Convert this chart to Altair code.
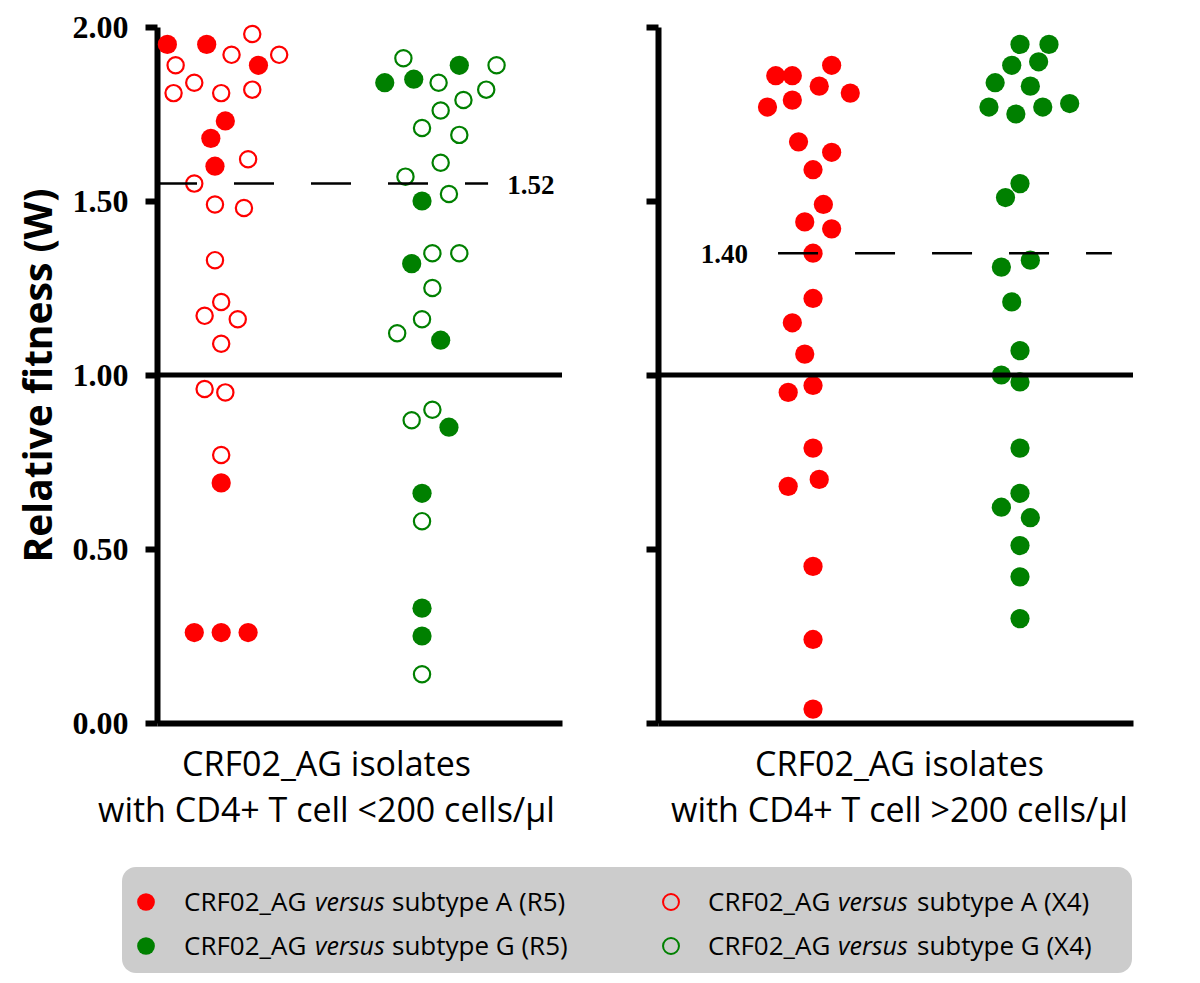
import altair as alt
import pandas as pd

# ---------------- data ----------------
# y = relative fitness (W); x = horizontal scatter position (1 = subtype A column, 2 = subtype G column)
# Panel 1: CRF02_AG isolates with CD4+ T cell <200 cells/ul
LT_A_R5_Y = [1.95, 1.95, 1.89, 1.73, 1.68, 1.60, 0.69, 0.26, 0.26, 0.26]
LT_A_R5_X = [0.77, 0.96, 1.21, 1.05, 0.98, 1.00, 1.03, 0.90, 1.03, 1.16]
LT_A_X4_Y = [1.98, 1.92, 1.92, 1.89, 1.84, 1.81, 1.81, 1.82, 1.62, 1.55,
             1.49, 1.48, 1.33, 1.21, 1.17, 1.16, 1.09, 0.96, 0.95, 0.77]
LT_A_X4_X = [1.18, 1.31, 1.08, 0.81, 0.90, 0.80, 1.03, 1.18, 1.16, 0.90,
             1.00, 1.14, 1.00, 1.03, 0.95, 1.11, 1.03, 0.95, 1.05, 1.03]
LT_G_R5_Y = [1.84, 1.85, 1.89, 1.50, 1.32, 1.10, 0.85, 0.66, 0.33, 0.25]
LT_G_R5_X = [1.82, 1.96, 2.18, 2.00, 1.95, 2.09, 2.13, 2.00, 2.00, 2.00]
LT_G_X4_Y = [1.91, 1.89, 1.84, 1.82, 1.79, 1.76, 1.71, 1.69, 1.61, 1.57,
             1.52, 1.35, 1.35, 1.25, 1.16, 1.12, 0.87, 0.90, 0.58, 0.14]
LT_G_X4_X = [1.91, 2.36, 2.08, 2.31, 2.20, 2.09, 2.00, 2.18, 2.09, 1.92,
             2.13, 2.05, 2.18, 2.05, 2.00, 1.88, 1.95, 2.05, 2.00, 2.00]

# Panel 2: CRF02_AG isolates with CD4+ T cell >200 cells/ul
GT_A_R5_Y = [1.89, 1.86, 1.86, 1.83, 1.81, 1.77, 1.79, 1.67, 1.64, 1.59,
             1.49, 1.44, 1.42, 1.35, 1.22, 1.15, 1.06, 0.97, 0.95, 0.79,
             0.70, 0.68, 0.45, 0.24, 0.04]
GT_A_R5_X = [1.09, 0.82, 0.90, 1.03, 1.18, 0.78, 0.90, 0.93, 1.09, 1.00,
             1.05, 0.96, 1.09, 1.00, 1.00, 0.90, 0.96, 1.00, 0.88, 1.00,
             1.03, 0.88, 1.00, 1.00, 1.00]
GT_G_R5_Y = [1.95, 1.95, 1.89, 1.90, 1.84, 1.83, 1.77, 1.75, 1.77, 1.78,
             1.55, 1.51, 1.31, 1.33, 1.21, 1.07, 1.00, 0.98, 0.79, 0.66,
             0.62, 0.59, 0.51, 0.42, 0.30]
GT_G_R5_X = [2.00, 2.14, 1.96, 2.09, 1.88, 2.05, 1.85, 1.98, 2.11, 2.24,
             2.00, 1.93, 1.91, 2.05, 1.96, 2.00, 1.91, 2.00, 2.00, 2.00,
             1.91, 2.05, 2.00, 2.00, 2.00]

Y_TICKS = [0.0, 0.5, 1.0, 1.5, 2.0]
REFERENCE_W = 1.0
MEDIAN_LINE = {"lt": 1.55, "gt": 1.35}
MEDIAN_TEXT = {"lt": "1.52", "gt": "1.40"}
PANEL_TITLES = {
    "lt": ["CRF02_AG isolates", "with CD4+ T cell <200 cells/μl"],
    "gt": ["CRF02_AG isolates", "with CD4+ T cell >200 cells/μl"],
}
SUBTYPES = ["A", "G"]
COLORS = ["#ff0000", "#008000"]
LEGEND_ITEMS = [  # (subtype, tropism, text after "versus")
    ("A", "R5", "subtype A (R5)"),
    ("G", "R5", "subtype G (R5)"),
    ("A", "X4", "subtype A (X4)"),
    ("G", "X4", "subtype G (X4)"),
]

# ---------------- build tables ----------------
rows = []
for panel, sub, trop, xs, ys in [
    ("lt", "A", "R5", LT_A_R5_X, LT_A_R5_Y),
    ("lt", "A", "X4", LT_A_X4_X, LT_A_X4_Y),
    ("lt", "G", "R5", LT_G_R5_X, LT_G_R5_Y),
    ("lt", "G", "X4", LT_G_X4_X, LT_G_X4_Y),
    ("gt", "A", "R5", GT_A_R5_X, GT_A_R5_Y),
    ("gt", "G", "R5", GT_G_R5_X, GT_G_R5_Y),
]:
    for x, y in zip(xs, ys):
        rows.append({"panel": panel, "subtype": sub, "tropism": trop, "x": x, "y": y})
points = pd.DataFrame(rows)

# ---------------- layout ----------------
PLOT_H = 696
TOP_SHIFT = 9  # legend offsets are relative to the plot's top-left corner
PANEL = {
    "lt": dict(width=405, xdom=[0.72, 2.676], dash=[0.72, 2.319], label_x=2.411,
               label_align="left", title_x=169, y_labels=True),
    "gt": dict(width=475, xdom=[0.251, 2.546], dash=[0.831, 2.444], label_x=0.686,
               label_align="right", title_x=241, y_labels=False),
}
SANS = "Open Sans"
SERIF = "Liberation Serif"
color_scale = alt.Scale(domain=SUBTYPES, range=COLORS)


def make_panel(key, with_legend=False):
    p = PANEL[key]
    x_enc = alt.X(
        "x:Q",
        scale=alt.Scale(domain=p["xdom"], nice=False, zero=False),
        axis=alt.Axis(
            domain=True, domainColor="black", domainWidth=6, ticks=False, labels=False,
            grid=False, title=PANEL_TITLES[key], titleFont=SANS, titleFontSize=34,
            titleFontWeight="normal", titleColor="black", titleX=p["title_x"], titleY=52,
            titleBaseline="alphabetic", titleAlign="center", titleLineHeight=46,
        ),
    )
    y_axis_kw = dict(
        values=Y_TICKS, format=".2f", domain=True, domainColor="black", domainWidth=6,
        ticks=True, tickSize=12, tickWidth=6, tickColor="black", grid=False,
    )
    if p["y_labels"]:
        y_axis_kw.update(
            labels=True, labelFont=SERIF, labelFontSize=32, labelFontWeight="bold",
            labelColor="black", labelPadding=17,
            title="Relative fitness (W)", titleFont=SANS, titleFontSize=39,
            titleFontWeight="bold", titleColor="black", titleX=-106, titleY=PLOT_H / 2,
            titleBaseline="alphabetic", titleAlign="center", titleAngle=270,
        )
    else:
        y_axis_kw.update(labels=False, title=None)
    y_enc = alt.Y("y:Q", scale=alt.Scale(domain=[0, 2], nice=False, zero=False),
                  axis=alt.Axis(**y_axis_kw))
    col = alt.Color("subtype:N", scale=color_scale, legend=None)

    data = points[points.panel == key]
    filled = alt.Chart(data[data.tropism == "R5"]).mark_circle(
        size=370, opacity=1).encode(x=x_enc, y=y_enc, color=col)
    layers = [filled]
    if (data.tropism == "X4").any():
        hollow = alt.Chart(data[data.tropism == "X4"]).mark_point(
            shape="circle", filled=False, size=265, strokeWidth=2.2, opacity=1
        ).encode(x=x_enc, y=y_enc, color=col)
        layers.append(hollow)

    ref = alt.Chart(pd.DataFrame({"x": [p["xdom"][0]], "x2": [p["xdom"][1]],
                                  "y": [REFERENCE_W]})).mark_rule(
        color="black", strokeWidth=5).encode(x=x_enc, x2="x2:Q", y=y_enc)
    med = alt.Chart(pd.DataFrame({"x": [p["dash"][0]], "x2": [p["dash"][1]],
                                  "y": [MEDIAN_LINE[key]]})).mark_rule(
        color="black", strokeWidth=2.5, strokeDash=[40, 37]).encode(x=x_enc, x2="x2:Q", y=y_enc)
    med_lab = alt.Chart(pd.DataFrame({"x": [p["label_x"]], "y": [MEDIAN_LINE[key]],
                                      "label": [MEDIAN_TEXT[key]]})).mark_text(
        font=SERIF, fontSize=27, fontWeight="bold", color="black",
        align=p["label_align"], baseline="middle", dy=2).encode(x=x_enc, y=y_enc, text="label:N")
    layers += [ref, med, med_lab]

    if with_legend:
        one = pd.DataFrame({"k": [0]})
        # grey legend box (pixel offsets relative to this panel's origin)
        layers.append(alt.Chart(one).mark_rect(color="#cccccc", cornerRadius=14).encode(
            x=alt.value(-536), x2=alt.value(474),
            y=alt.value(849 - TOP_SHIFT), y2=alt.value(955 - TOP_SHIFT)))
        col_x = {"R5": (-512, -474, -343, -266), "X4": (13, 50, 180, 259)}
        row_y = {"A": 884 - TOP_SHIFT, "G": 928 - TOP_SHIFT}
        for sub, trop, tail in LEGEND_ITEMS:
            mx, t1, t2, t3 = col_x[trop]
            yy = row_y[sub]
            c = COLORS[SUBTYPES.index(sub)]
            if trop == "R5":
                layers.append(alt.Chart(one).mark_circle(size=314, opacity=1, color=c).encode(
                    x=alt.value(mx), y=alt.value(yy)))
            else:
                layers.append(alt.Chart(one).mark_point(
                    shape="circle", filled=False, size=254, strokeWidth=2, opacity=1, color=c
                ).encode(x=alt.value(mx), y=alt.value(yy)))
            for txt, tx, style, fs in [("CRF02_AG", t1, "normal", 26),
                                       ("versus", t2, "italic", 25),
                                       (tail, t3, "normal", 26)]:
                layers.append(alt.Chart(one).mark_text(
                    font=SANS, fontSize=fs, fontStyle=style, color="black",
                    align="left", baseline="middle", dy=1
                ).encode(x=alt.value(tx), y=alt.value(yy), text=alt.value(txt)))

    return alt.layer(*layers).properties(width=p["width"], height=PLOT_H)


chart = alt.hconcat(
    make_panel("lt"), make_panel("gt", with_legend=True), spacing=96, bounds="flush"
).properties(
    padding={"left": 12, "top": 3, "right": 5, "bottom": 2}
).configure_view(strokeWidth=0)

chart.save("out.html", embed_options={"renderer": "svg", "actions": False})
